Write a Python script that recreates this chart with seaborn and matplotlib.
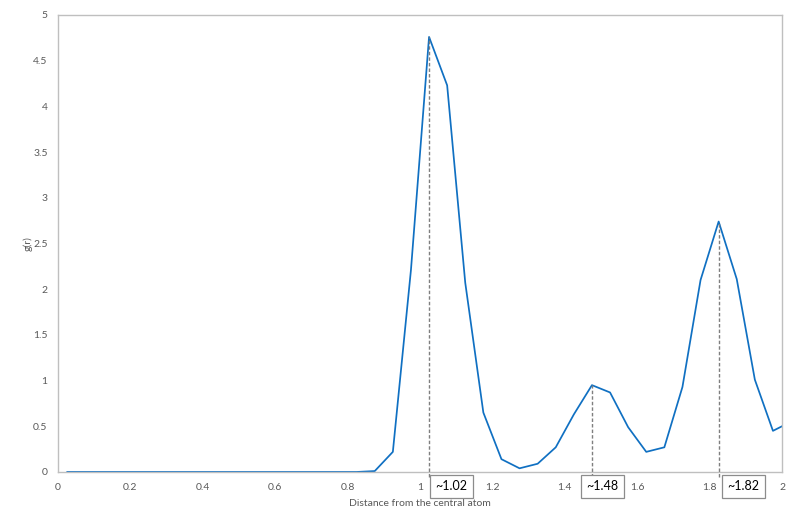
import numpy as np
import pandas as pd
import matplotlib
matplotlib.use("Agg")
import matplotlib.pyplot as plt
import seaborn as sns
from matplotlib.ticker import MultipleLocator

# radial distribution data
r = [0.025, 0.075, 0.125, 0.175, 0.225, 0.275, 0.325, 0.375, 0.425, 0.475,
     0.525, 0.575, 0.625, 0.675, 0.725, 0.775, 0.825, 0.875, 0.925, 0.975,
     1.025, 1.075, 1.125, 1.175, 1.225, 1.275, 1.325, 1.375, 1.425, 1.475,
     1.525, 1.575, 1.625, 1.675, 1.725, 1.775, 1.825, 1.875, 1.925, 1.975,
     2.025]
g = [0, 0, 0, 0, 0, 0, 0, 0, 0, 0,
     0, 0, 0, 0, 0, 0, 0, 0.01, 0.22, 2.21,
     4.76, 4.23, 2.07, 0.65, 0.14, 0.04, 0.09, 0.27, 0.63, 0.95,
     0.87, 0.49, 0.22, 0.27, 0.93, 2.10, 2.74, 2.11, 1.01, 0.45,
     0.55]

# marked peaks
peak_r = [1.025, 1.475, 1.825]
peak_g = [4.76, 0.95, 2.74]
peak_labels = ["~1.02", "~1.48", "~1.82"]

sns.set_style("white")
plt.rcParams['font.family'] = ['Lato', 'DejaVu Sans']

df = pd.DataFrame({"r": r, "g": g})

fig = plt.figure(figsize=(8, 5.25), dpi=100)
ax = fig.add_axes([0.0725, 0.101, 0.905, 0.8705])

sns.lineplot(data=df, x="r", y="g", ax=ax, color="#1070C2", linewidth=1.25)

ax.set_xlim(0, 2)
ax.set_ylim(0, 5)
ax.xaxis.set_minor_locator(MultipleLocator(0.05))
ax.set_xticks([0, 0.2, 0.4, 0.6, 0.8, 1, 1.2, 1.4, 1.6, 1.8, 2])
ax.set_xticklabels(["0", "0.2", "0.4", "0.6", "0.8", "1", "1.2", "1.4", "1.6", "1.8", "2"])
ax.set_yticks(np.arange(0, 5.01, 0.5))
ax.set_yticklabels(["0", "0.5", "1", "1.5", "2", "2.5", "3", "3.5", "4", "4.5", "5"])

ax.tick_params(axis="x", which="both", direction="in", length=3, width=0.8,
               color="#bfbfbf", labelsize=7.5, labelcolor="#595959", pad=8)
ax.tick_params(axis="y", length=0, labelsize=7.5, labelcolor="#595959", pad=7.5)

for sp in ax.spines.values():
    sp.set_color("#bfbfbf")
    sp.set_linewidth(1.0)

ax.set_xlabel("Distance from the central atom", fontsize=7.5, color="#595959", labelpad=5)
ax.set_ylabel("g(r)", fontsize=7.5, color="#595959", labelpad=0)

# dashed drop lines and boxed labels at the peaks
box_shift = [0.062, 0.03, 0.068]
for x, y, lab, dx in zip(peak_r, peak_g, peak_labels, box_shift):
    ax.plot([x, x], [-0.06, y], ls=(0, (2.5, 1.5)), color="#7f7f7f",
            linewidth=1.0, clip_on=False, zorder=3)
    ax.text(x + dx, -0.031, lab, transform=ax.get_xaxis_transform(),
            ha="center", va="center", fontsize=9, color="black",
            bbox=dict(boxstyle="square,pad=0.45", fc="white", ec="#8c8c8c", lw=0.9),
            zorder=4)

fig.savefig("out.png", dpi=100)
